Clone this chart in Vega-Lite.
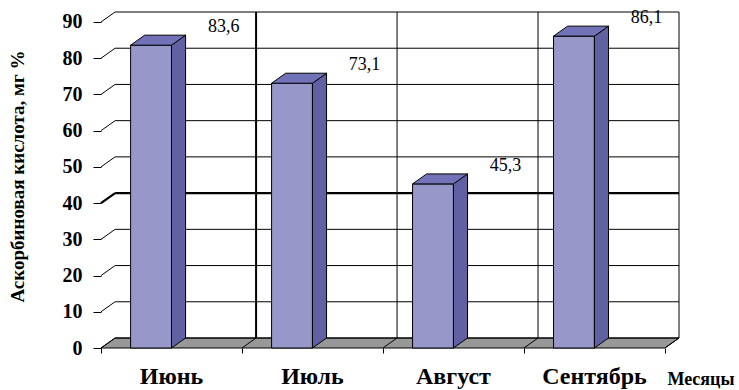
{
  "$schema": "https://vega.github.io/schema/vega-lite/v6.json",
  "width": 578,
  "height": 336,
  "autosize": "none",
  "padding": {"left": 101, "top": 12, "right": 60, "bottom": 42},
  "background": "white",
  "config": {
    "view": {"stroke": null},
    "font": "Liberation Serif",
    "axis": {"labelOverlap": false, "labelBound": false, "labelFlush": false, "labelSeparation": 0, "grid": false, "domain": false, "tickColor": "black", "labelColor": "black", "titleColor": "black", "labelFont": "Liberation Serif", "titleFont": "Liberation Serif", "labelFontWeight": "bold", "titleFontWeight": "bold"},
    "axisY": {"tickSize": 8, "labelFontSize": 20, "labelPadding": 11, "tickCount": 10}
  },
  "datasets": {
    "months": [
      {"month": "Июнь", "idx": 0, "value": 83.6, "label": "83,6"},
      {"month": "Июль", "idx": 1, "value": 73.1, "label": "73,1"},
      {"month": "Август", "idx": 2, "value": 45.3, "label": "45,3"},
      {"month": "Сентябрь", "idx": 3, "value": 86.1, "label": "86,1"}
    ],
    "ticks": [{"v": 0}, {"v": 10}, {"v": 20}, {"v": 30}, {"v": 40}, {"v": 50}, {"v": 60}, {"v": 70}, {"v": 80}, {"v": 90}]
  },
  "layer": [
    {
      "data": {"name": "months"},
      "transform": [
        {"filter": "datum.idx == 0"},
        {"calculate": "0", "as": "a"},
        {"calculate": "1", "as": "b"},
        {"fold": ["a", "b"], "as": ["k", "d"]},
        {"calculate": "datum.d * 2.76", "as": "fy"},
        {"calculate": "datum.d * 0.1", "as": "fx"},
        {"calculate": "4 + datum.d * 0.1", "as": "fx2"}
      ],
      "mark": {"type": "area", "orient": "horizontal", "fill": "#989898", "stroke": "black", "strokeWidth": 1},
      "encoding": {
        "y": {"field": "fy", "type": "quantitative", "scale": {"domain": [0, 92.76], "nice": false, "zero": false},
          "axis": {"values": [0, 10, 20, 30, 40, 50, 60, 70, 80, 90], "labelOverlap": false, "tickSize": 8, "labelFontSize": 20, "labelPadding": 11,
            "title": "Аскорбиновая кислота, мг %", "titleFontSize": 19,
            "titleAngle": 270, "titleX": -84, "titleY": 164, "titleAlign": "center", "titleBaseline": "middle"}},
        "x": {"field": "fx", "type": "quantitative", "scale": {"domain": [0, 4.1], "nice": false, "zero": false},
          "axis": {"values": [0, 1, 2, 3, 4], "tickSize": 5,
            "labelExpr": "datum.value < 4 ? ['Июнь','Июль','Август','Сентябрь'][datum.value] : ''",
            "labelOffset": 70, "labelFontSize": 24,
            "labelBaseline": "alphabetic", "labelPadding": 30,
            "title": "Месяцы", "titleFontSize": 18,
            "titleX": 633, "titleY": 36, "titleAlign": "right", "titleBaseline": "alphabetic", "titleAnchor": null}},
        "x2": {"field": "fx2"}
      }
    },
    {
      "data": {"name": "ticks"},
      "transform": [{"calculate": "datum.v + 2.76", "as": "yb"}],
      "mark": {"type": "rule", "color": "black"},
      "encoding": {
        "x": {"datum": 0.1, "type": "quantitative"},
        "x2": {"datum": 4.1},
        "y": {"field": "yb", "type": "quantitative"},
        "strokeWidth": {"condition": {"test": "datum.v == 40", "value": 2.2}, "value": 1}
      }
    },
    {
      "data": {"name": "ticks"},
      "transform": [{"calculate": "datum.v + 2.76", "as": "yb"}],
      "mark": {"type": "rule", "color": "black"},
      "encoding": {
        "x": {"datum": 0, "type": "quantitative"},
        "x2": {"datum": 0.1},
        "y": {"field": "v", "type": "quantitative"},
        "y2": {"field": "yb"},
        "strokeWidth": {"condition": {"test": "datum.v == 40", "value": 2.2}, "value": 1}
      }
    },
    {
      "data": {"name": "months"},
      "transform": [{"calculate": "datum.idx + 1.1", "as": "gx"}],
      "mark": {"type": "rule", "color": "black"},
      "encoding": {
        "x": {"field": "gx", "type": "quantitative"},
        "y": {"datum": 2.76, "type": "quantitative"},
        "y2": {"datum": 92.76},
        "strokeWidth": {"condition": {"test": "datum.idx == 0", "value": 2}, "value": 1}
      }
    },
    {
      "data": {"name": "months"},
      "transform": [{"calculate": "datum.idx + 1", "as": "fx"}, {"calculate": "datum.idx + 1.1", "as": "fx2"}],
      "mark": {"type": "rule", "color": "black"},
      "encoding": {
        "x": {"field": "fx", "type": "quantitative"},
        "x2": {"field": "fx2"},
        "y": {"datum": 0, "type": "quantitative"},
        "y2": {"datum": 2.76}
      }
    },
    {
      "mark": {"type": "rule", "color": "black"},
      "encoding": {
        "x": {"datum": 0.1, "type": "quantitative"},
        "y": {"datum": 2.76, "type": "quantitative"},
        "y2": {"datum": 92.76}
      }
    },
    {
      "mark": {"type": "rule", "color": "black"},
      "encoding": {
        "x": {"datum": 0, "type": "quantitative"},
        "y": {"datum": 0, "type": "quantitative"},
        "y2": {"datum": 90}
      }
    },
    {
      "data": {"name": "months"},
      "transform": [{"calculate": "datum.idx + 0.21", "as": "bx"}, {"calculate": "datum.idx + 0.5", "as": "bx2"}],
      "mark": {"type": "rect", "fill": "#9797C9", "stroke": "black", "strokeWidth": 1},
      "encoding": {
        "x": {"field": "bx", "type": "quantitative"},
        "x2": {"field": "bx2"},
        "y": {"field": "value", "type": "quantitative"},
        "y2": {"datum": 0}
      }
    },
    {
      "data": {"name": "months"},
      "transform": [
        {"calculate": "0", "as": "a"},
        {"calculate": "1", "as": "b"},
        {"fold": ["a", "b"], "as": ["k", "d"]},
        {"calculate": "datum.idx + 0.5 + datum.d * 0.1", "as": "sx"},
        {"calculate": "datum.d * 2.76", "as": "sy"},
        {"calculate": "datum.value + datum.d * 2.76", "as": "sy2"}
      ],
      "mark": {"type": "area", "fill": "#6060A2", "stroke": "black", "strokeWidth": 1},
      "encoding": {
        "x": {"field": "sx", "type": "quantitative"},
        "y": {"field": "sy", "type": "quantitative"},
        "y2": {"field": "sy2"},
        "detail": {"field": "month"}
      }
    },
    {
      "data": {"name": "months"},
      "transform": [
        {"calculate": "0", "as": "a"},
        {"calculate": "1", "as": "b"},
        {"fold": ["a", "b"], "as": ["k", "d"]},
        {"calculate": "datum.value + datum.d * 2.76", "as": "ty"},
        {"calculate": "datum.idx + 0.21 + datum.d * 0.1", "as": "tx"},
        {"calculate": "datum.idx + 0.5 + datum.d * 0.1", "as": "tx2"}
      ],
      "mark": {"type": "area", "orient": "horizontal", "fill": "#7272B8", "stroke": "black", "strokeWidth": 1},
      "encoding": {
        "y": {"field": "ty", "type": "quantitative"},
        "x": {"field": "tx", "type": "quantitative"},
        "x2": {"field": "tx2"},
        "detail": {"field": "month"}
      }
    },
    {
      "data": {"name": "months"},
      "transform": [{"calculate": "datum.idx + 0.87", "as": "lx"}],
      "mark": {"type": "text", "font": "Liberation Serif", "fontSize": 18, "color": "black", "align": "center", "baseline": "middle", "dy": -18},
      "encoding": {
        "x": {"field": "lx", "type": "quantitative"},
        "y": {"field": "value", "type": "quantitative"},
        "text": {"field": "label"}
      }
    }
  ]
}
